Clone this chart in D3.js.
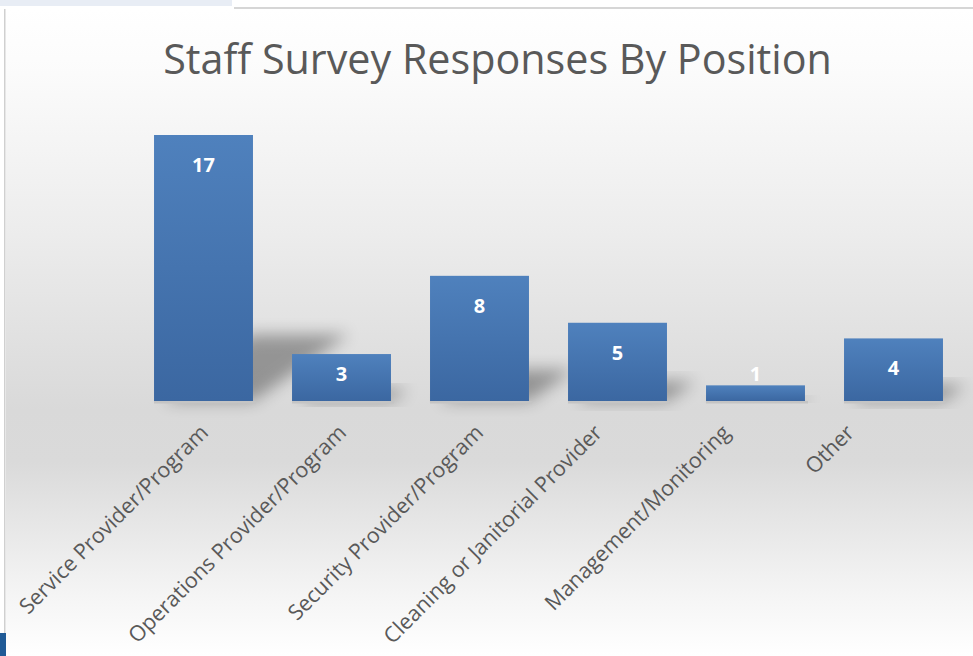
<!DOCTYPE html>
<html lang="en">

<head>
    <meta charset="utf-8" />
    <title>Staff Survey Responses By Position</title>
    <script src="https://cdn.jsdelivr.net/npm/d3@7"></script>
    <style>
        html, body { margin: 0; padding: 0; background: #fff; }
        svg { display: block; }
        .x-axis path, .x-axis line { stroke: none; }
        .x-axis text { font-family: "Open Sans", sans-serif; fill: #595959; }
    </style>
</head>

<body>
</body>

<script>

    // data
    const categories = [
        'Service Provider/Program',
        'Operations Provider/Program',
        'Security Provider/Program',
        'Cleaning or Janitorial Provider',
        'Management/Monitoring',
        'Other'
    ];
    const responses = [17, 3, 8, 5, 1, 4];
    const title = 'Staff Survey Responses By Position';

    // layout
    const W = 973, H = 656;
    const plot = { left: 134.5, right: 962.5, top: 135, bottom: 401 };
    const labelNudge = [4, 4, 3, -16, -26, -40];   // tick label tweaks seen in the original

    const svg = d3.select('body').append('svg')
        .attr('width', W)
        .attr('height', H);

    const defs = svg.append('defs');

    let bg = defs.append('linearGradient')
        .attr('id', 'bg').attr('x1', 0).attr('y1', 0).attr('x2', 0).attr('y2', 1);
    [[0, '#ffffff'], [0.1, '#fbfbfb'], [0.35, '#ececec'], [0.62, '#d9d9d9'], [0.7, '#dadada'], [0.9, '#f4f4f4'], [1, '#ffffff']]
        .forEach(s => bg.append('stop').attr('offset', s[0]).attr('stop-color', s[1]));

    let barGrad = defs.append('linearGradient')
        .attr('id', 'bar').attr('x1', 0).attr('y1', 0).attr('x2', 0).attr('y2', 1);
    barGrad.append('stop').attr('offset', 0).attr('stop-color', '#4f81bd');
    barGrad.append('stop').attr('offset', 1).attr('stop-color', '#3b67a1');

    defs.append('filter').attr('id', 'blur')
        .attr('x', '-50%').attr('y', '-50%').attr('width', '200%').attr('height', '200%')
        .append('feGaussianBlur').attr('stdDeviation', 8);

    // frame bits around the chart
    svg.append('rect').attr('x', 0).attr('y', 0).attr('width', 232).attr('height', 6).style('fill', '#e8edf5');
    svg.append('rect').attr('x', 234).attr('y', 7).attr('width', W - 234).attr('height', 2).style('fill', '#d6d6d6');
    svg.append('rect').attr('x', 6).attr('y', 9).attr('width', W - 6).attr('height', H - 9).style('fill', 'url(#bg)');
    svg.append('rect').attr('x', 4).attr('y', 9).attr('width', 1.5).attr('height', H - 9).style('fill', '#d0d0d0');
    svg.append('rect').attr('x', 0).attr('y', 633).attr('width', 6).attr('height', H - 633).style('fill', '#1f5a96');

    let x = d3.scaleBand()
        .domain(categories)
        .range([plot.left, plot.right])
        .paddingInner(0.283)
        .paddingOuter(0.1415);

    let y = d3.scaleLinear()
        .domain([0, 17])
        .range([plot.bottom, plot.top]);

    // title
    let t = svg.append('text')
        .attr('x', (163 + 832) / 2)
        .attr('y', 74)
        .attr('text-anchor', 'middle')
        .style('font-family', '"Open Sans", sans-serif')
        .style('font-size', '36px')
        .style('fill', '#595959')
        .text(title);
    let tw = t.node().getComputedTextLength();
    t.style('font-size', (36 * 669 / tw) + 'px');

    // shadows, like a perspective shadow falling up-right
    svg.append('g').selectAll('.shadow')
        .data(responses)
        .enter().append('polygon')
        .attr('class', 'shadow')
        .attr('points', (d, i) => {
            let x0 = x(categories[i]), x1 = x0 + x.bandwidth(),
                h = y(0) - y(d), dx = h * 0.36, dy = h * 0.25;
            return [[x0 + 10, y(0)], [x1, y(0)], [x1 + dx, y(0) - dy], [x0 + dx, y(0) - dy]].join(' ');
        })
        .style('fill', '#000')
        .style('opacity', 0.33)
        .attr('filter', 'url(#blur)');

    // thin shadow below each bar
    svg.append('g').selectAll('.foot')
        .data(responses)
        .enter().append('rect')
        .attr('x', (d, i) => x(categories[i]))
        .attr('y', y(0))
        .attr('width', x.bandwidth() + 3)
        .attr('height', 2.5)
        .style('fill', '#c4c4c4');

    svg.append('g').selectAll('.bar')
        .data(responses)
        .enter().append('rect')
        .attr('class', 'bar')
        .attr('x', (d, i) => x(categories[i]))
        .attr('y', d => y(d))
        .attr('width', x.bandwidth())
        .attr('height', d => y(0) - y(d))
        .style('fill', 'url(#bar)');

    // value labels at the inside end, kept above the floor for short bars
    svg.append('g').selectAll('.value')
        .data(responses)
        .enter().append('text')
        .attr('x', (d, i) => x(categories[i]) + x.bandwidth() / 2)
        .attr('y', d => Math.min(y(d) + 37, y(0) - 20))
        .attr('text-anchor', 'middle')
        .style('font-family', '"Open Sans", sans-serif')
        .style('font-weight', 'bold')
        .style('font-size', '20px')
        .style('fill', '#ffffff')
        .text(d => d);

    // category axis with rotated labels
    let xAxis = d3.axisBottom(x).tickSize(0).tickPadding(0);
    let ax = svg.append('g')
        .attr('class', 'x-axis')
        .attr('transform', `translate(0,${plot.bottom})`)
        .call(xAxis);

    ax.selectAll('.tick text')
        .style('font-size', '21.5px')
        .attr('text-anchor', 'end')
        .attr('dy', 0)
        .attr('y', 0)
        .attr('transform', (d, i) => `translate(${2 + labelNudge[i]},${33}) rotate(-45)`);

</script>

</html>
